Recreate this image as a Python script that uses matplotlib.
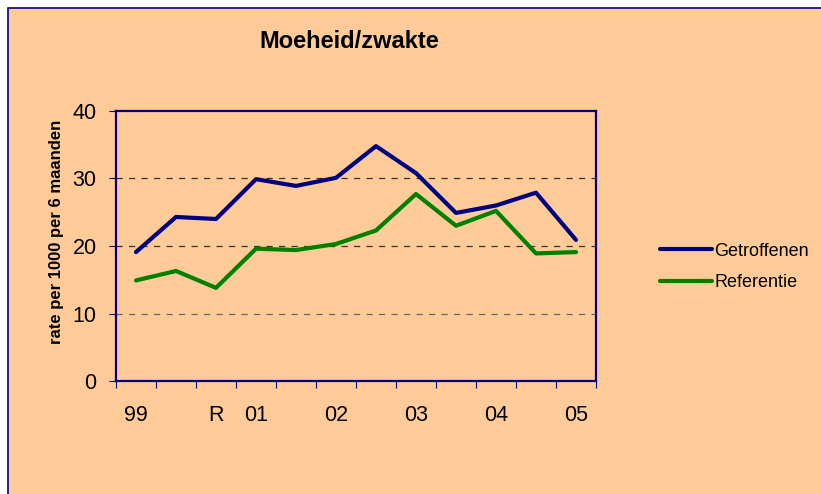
import numpy as np
import matplotlib.pyplot as plt
from matplotlib.patches import Rectangle

plt.rcParams['font.family'] = ['Liberation Sans', 'DejaVu Sans']

# data
labels = ['99', '', 'R', '01', '', '02', '', '03', '', '04', '', '05']
getroffenen = [19.1, 24.3, 24.0, 29.9, 28.9, 30.1, 34.8, 30.8, 24.9, 26.0, 27.9, 20.9]
referentie = [14.9, 16.3, 13.8, 19.6, 19.4, 20.3, 22.3, 27.7, 23.0, 25.2, 18.9, 19.1]

peach = '#FFCC99'
navy = '#000080'
green = '#008000'

fig = plt.figure(figsize=(8.21, 4.94), dpi=100)
fig.patch.set_facecolor('white')

# peach chart area with navy border
fig.patches.append(Rectangle((8 / 821, -0.01), 1.0, (494 - 8) / 494 + 0.01,
                             transform=fig.transFigure, facecolor=peach,
                             edgecolor=navy, linewidth=1.2, zorder=-1))

ax = fig.add_axes([116 / 821, (494 - 381) / 494, 480 / 821, 270 / 494])
ax.set_facecolor(peach)

x = np.arange(len(labels))
ax.plot(x, getroffenen, color=navy, linewidth=3.0, label='Getroffenen',
        solid_capstyle='round', zorder=3)
ax.plot(x, referentie, color=green, linewidth=3.0, label='Referentie',
        solid_capstyle='round', zorder=3)

ax.set_xlim(-0.5, len(labels) - 0.5)
ax.set_ylim(0, 40)

# gridlines
for yv in [10, 20, 30]:
    ax.axhline(yv, color='#333333' if yv > 10 else '#666666', linewidth=0.9,
               linestyle=(0, (5, 5)), zorder=1)

for s in ax.spines.values():
    s.set_color(navy)
    s.set_linewidth(1.6)

ax.set_yticks([0, 10, 20, 30, 40])
ax.tick_params(axis='y', direction='out', length=5, color=navy, labelsize=15.5, pad=9)

# ticks at category boundaries, labels at centres
ax.set_xticks(np.arange(-0.5, len(labels), 1.0))
ax.set_xticklabels([])
ax.tick_params(axis='x', which='major', direction='out', length=5, color=navy)
ax.set_xticks(x, minor=True)
ax.set_xticklabels(labels, minor=True)
ax.tick_params(axis='x', which='minor', length=0, labelsize=15.5, pad=17)

fig.text(56 / 821, 1 - 232 / 494, 'rate per 1000 per 6 maanden', rotation=90,
         ha='center', va='center', fontsize=12, fontweight='bold')

fig.text(349 / 821, 1 - 42 / 494, 'Moeheid/zwakte', ha='center', va='center',
         fontsize=17, fontweight='bold')

fig.legend(loc='center left', bbox_to_anchor=(660 / 821, 1 - 267 / 494),
           frameon=False, fontsize=13, handlelength=2.9, handletextpad=0.12,
           labelspacing=0.8, borderpad=0, borderaxespad=0)

fig.savefig('out.png', dpi=100, facecolor=fig.get_facecolor())
